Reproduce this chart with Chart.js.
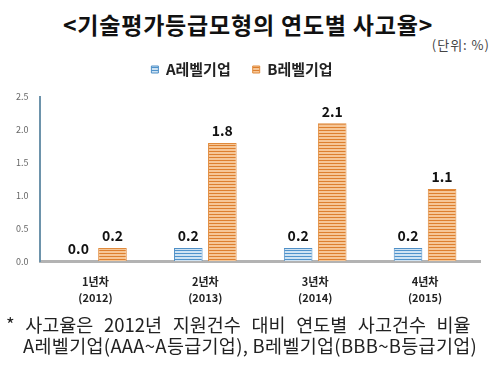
<!DOCTYPE html>
<html>
<head>
<meta charset="utf-8">
<script src="https://cdn.jsdelivr.net/npm/chart.js@4/dist/chart.umd.min.js"></script>
<style>
  body { margin: 0; background: #fff; font-family: "Noto Sans CJK KR", sans-serif; }
  #wrap { position: relative; width: 500px; height: 370px; overflow: hidden; }
  .title { position: absolute; left: 0; width: 496px; top: 7px; text-align: center; font-size: 23px; letter-spacing: 0.8px; font-weight: bold; color: #111; }
  .unit { position: absolute; right: 10px; top: 35px; font-size: 13px; letter-spacing: 1px; color: #444; }
  .note { position: absolute; font-size: 18.5px; line-height: 21px; color: #222; white-space: nowrap; }
  #box { position: absolute; left: 0; top: 40px; width: 500px; height: 279px; }
</style>
</head>
<body>
<div id="wrap">
  <div class="title">&lt;기술평가등급모형의 연도별 사고율&gt;</div>
  <div class="unit">(단위: %)</div>
  <div id="box"><canvas id="chart"></canvas></div>
  <div class="note" style="left:6px; top:314px; word-spacing:6.5px;">* 사고율은 2012년 지원건수 대비 연도별 사고건수 비율</div>
  <div class="note" style="left:23px; top:335px; letter-spacing:0.3px;">A레벨기업(AAA~A등급기업), B레벨기업(BBB~B등급기업)</div>
</div>
<script>
const categories = ["1년차", "2년차", "3년차", "4년차"];
const years = ["(2012)", "(2013)", "(2014)", "(2015)"];
const seriesNames = ["A레벨기업", "B레벨기업"];
const levelA = [0.0, 0.2, 0.2, 0.2];
const levelB = [0.2, 1.8, 2.1, 1.1];
const yTicks = [0, 0.5, 1.0, 1.5, 2.0, 2.5];

// striped fill like the original picture
function stripes(bg, line) {
  const c = document.createElement("canvas");
  c.width = 4; c.height = 3;
  const g = c.getContext("2d");
  g.fillStyle = bg;
  g.fillRect(0, 0, 4, 3);
  g.fillStyle = line;
  g.fillRect(0, 0, 4, 1);
  return g.createPattern(c, "repeat");
}

const ctx = document.getElementById("chart").getContext("2d");
const blueFill = stripes("#cfe3f3", "#4f93cc");
const orangeFill = stripes("#f6c696", "#dd7f2e");

const valueLabels = {
  id: "valueLabels",
  afterDatasetsDraw(chart) {
    const c = chart.ctx;
    c.save();
    c.font = "bold 14px 'Noto Sans CJK KR', sans-serif";
    c.fillStyle = "#111";
    c.textAlign = "center";
    c.textBaseline = "bottom";
    chart.data.datasets.forEach((ds, i) => {
      chart.getDatasetMeta(i).data.forEach((bar, j) => {
        c.fillText(ds.data[j].toFixed(1), bar.x, bar.y - 5);
      });
    });
    c.restore();
  }
};

// a bit more room under the legend than above it
const legendGap = {
  id: "legendGap",
  beforeUpdate(chart) {
    const lg = chart.legend;
    if (lg && !lg._gapped) {
      const fit = lg.fit;
      lg.fit = function () { fit.call(this); this.height += 10; };
      lg._gapped = true;
    }
  }
};

new Chart(ctx, {
  type: "bar",
  data: {
    labels: categories.map((c, i) => [c, years[i]]),
    datasets: [
      {
        label: seriesNames[0],
        data: levelA,
        backgroundColor: blueFill,
        borderColor: "#4f8fc6",
        borderWidth: 1,
        barPercentage: 0.84,
        categoryPercentage: 0.62,
      },
      {
        label: seriesNames[1],
        data: levelB,
        backgroundColor: orangeFill,
        borderColor: "#e08a3c",
        borderWidth: 1,
        barPercentage: 0.84,
        categoryPercentage: 0.62,
      },
    ],
  },
  options: {
    responsive: true,
    maintainAspectRatio: false,
    animation: false,
    layout: { padding: { left: 4, right: 20, top: 0, bottom: 0 } },
    plugins: {
      legend: {
        position: "top",
        labels: {
          boxWidth: 7,
          boxHeight: 7,
          padding: 22,
          color: "#222",
          font: { family: "'Noto Sans CJK KR', sans-serif", size: 15, weight: "bold" },
        },
      },
      tooltip: { enabled: false },
    },
    scales: {
      x: {
        grid: { display: false, drawTicks: false },
        border: { color: "#b3b3b3", width: 3 },
        ticks: {
          padding: 13,
          color: "#222",
          font: { family: "'Noto Sans CJK KR', sans-serif", size: 11, weight: "bold", lineHeight: 1.45 },
        },
      },
      y: {
        min: 0,
        max: 2.5,
        afterBuildTicks: (axis) => { axis.ticks = yTicks.map(v => ({ value: v })); },
        grid: { display: false, drawTicks: false },
        border: { color: "#6d93ab", width: 2 },
        ticks: {
          padding: 12,
          color: "#666",
          callback: (v) => Number(v).toFixed(1),
          font: { family: "'Noto Sans CJK KR', sans-serif", size: 9 },
        },
      },
    },
  },
  plugins: [valueLabels, legendGap],
});
</script>
</body>
</html>
